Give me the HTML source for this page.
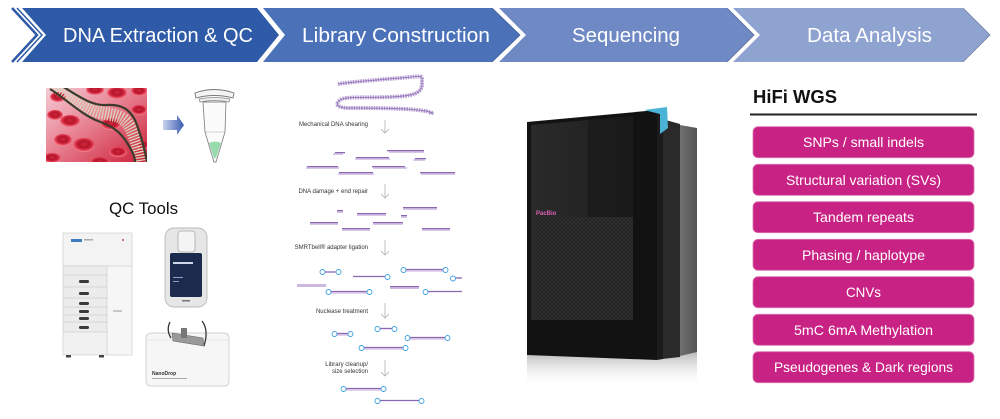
<!DOCTYPE html>
<html><head><meta charset="utf-8">
<style>
html,body{margin:0;padding:0;background:#fff;}
body{width:1000px;height:419px;overflow:hidden;}
svg{display:block;font-family:"Liberation Sans",Arial,sans-serif;}
</style></head>
<body>
<svg width="1000" height="419" viewBox="0 0 1000 419" xmlns="http://www.w3.org/2000/svg">
<defs>
  <linearGradient id="arr" x1="0" x2="1" y1="0" y2="0">
    <stop offset="0" stop-color="#c9d3ee"/><stop offset="1" stop-color="#3a5bb0"/>
  </linearGradient>
  <linearGradient id="blood" x1="0" y1="0" x2="1" y2="1">
    <stop offset="0" stop-color="#f4cbd4"/><stop offset="0.4" stop-color="#ea8a9a"/><stop offset="1" stop-color="#cc2038"/>
  </linearGradient>
  <radialGradient id="cell" cx="0.5" cy="0.45" r="0.5">
    <stop offset="0" stop-color="#d0283c"/><stop offset="0.5" stop-color="#b5142b"/><stop offset="0.85" stop-color="#e23c52"/><stop offset="1" stop-color="#f07a88"/>
  </radialGradient>
  <clipPath id="photo"><rect x="46" y="88" width="101" height="74"/></clipPath>
  <linearGradient id="refl" x1="0" y1="0" x2="0" y2="1">
    <stop offset="0" stop-color="#9a9a9a" stop-opacity="0.7"/><stop offset="1" stop-color="#fff" stop-opacity="0"/>
  </linearGradient>
  <linearGradient id="scr" x1="0" y1="0" x2="1" y2="0">
    <stop offset="0" stop-color="#2a2a2a"/><stop offset="0.55" stop-color="#242424"/><stop offset="0.56" stop-color="#1c1c1c"/><stop offset="1" stop-color="#1a1a1a"/>
  </linearGradient>
  <pattern id="mesh" width="4" height="4" patternUnits="userSpaceOnUse">
    <rect width="4" height="4" fill="#252525"/>
    <path d="M0 0L4 4M4 0L0 4" stroke="#313131" stroke-width="0.6"/>
  </pattern>
  <linearGradient id="side3" x1="0" x2="1"><stop offset="0" stop-color="#707070"/><stop offset="1" stop-color="#555"/></linearGradient>
</defs>

<!-- ===== Chevron header ===== -->
<polygon points="22,8 257,8 279,35 257,62 22,62 46,35" fill="#2e5aa8"/>
<polyline points="12,8 37,35 12,62" fill="none" stroke="#2e5aa8" stroke-width="2.5"/>
<polyline points="17,8 42,35 17,62" fill="none" stroke="#2e5aa8" stroke-width="1.5"/>
<polygon points="263,8 492,8 520,35 492,62 263,62 285,35" fill="#4b72b9"/>
<polygon points="499,8 727,8 754,35 727,62 499,62 526,35" fill="#6f89c4"/>
<polygon points="733,8 963,8 990,35 963,62 733,62 760,35" fill="#8fa3d1"/>
<polyline points="963,8 990,35 963,62" fill="none" stroke="#6f7fa6" stroke-width="0.8"/>
<polyline points="727,8 754,35 727,62" fill="none" stroke="#56689a" stroke-width="0.8"/>
<polyline points="492,8 520,35 492,62" fill="none" stroke="#3d5c99" stroke-width="0.8"/>
<g fill="#fff" font-size="20">
  <text x="63" y="42" textLength="190" lengthAdjust="spacingAndGlyphs">DNA Extraction &amp; QC</text>
  <text x="302" y="42" textLength="188" lengthAdjust="spacingAndGlyphs">Library Construction</text>
  <text x="572" y="42" textLength="108" lengthAdjust="spacingAndGlyphs">Sequencing</text>
  <text x="807" y="42" textLength="125" lengthAdjust="spacingAndGlyphs">Data Analysis</text>
</g>

<!-- ===== DNA / blood photo ===== -->
<g clip-path="url(#photo)">
  <rect x="46" y="88" width="101" height="74" fill="url(#blood)"/>
  <ellipse cx="95" cy="90" rx="9" ry="5" fill="url(#cell)"/>
  <ellipse cx="117" cy="93" rx="10" ry="6" fill="url(#cell)"/>
  <ellipse cx="139" cy="91" rx="8" ry="5" fill="url(#cell)"/>
  <ellipse cx="58" cy="97" rx="8" ry="5" fill="url(#cell)"/>
  <ellipse cx="139" cy="110" rx="8" ry="5" fill="url(#cell)"/>
  <ellipse cx="55" cy="115" rx="8" ry="5" fill="url(#cell)"/>
  <ellipse cx="70" cy="121" rx="10" ry="6" fill="url(#cell)"/>
  <ellipse cx="111" cy="124" rx="10" ry="6" fill="url(#cell)"/>
  <ellipse cx="63" cy="140" rx="9" ry="6" fill="url(#cell)"/>
  <ellipse cx="84" cy="145" rx="11" ry="7" fill="url(#cell)"/>
  <ellipse cx="118" cy="152" rx="9" ry="5" fill="url(#cell)"/>
  <ellipse cx="52" cy="158" rx="9" ry="5" fill="url(#cell)"/>
  <ellipse cx="100" cy="162" rx="10" ry="5" fill="url(#cell)"/>
  <ellipse cx="143" cy="145" rx="6" ry="5" fill="url(#cell)"/>
  <!-- helix -->
  <path d="M56 87 C72 97 88 110 103 113 S126 116 133 133 S140 156 142 166" fill="none" stroke="#d9d6bd" stroke-width="13" stroke-dasharray="1.3 1.5"/>
  <path d="M50 89 C66 99 82 115 98 121 S121 132 129 146 S134 160 136 166" fill="none" stroke="#3b3a2c" stroke-width="2.2"/>
  <path d="M62 86 C78 96 92 106 106 105 S131 108 137 125 S145 152 148 166" fill="none" stroke="#3b3a2c" stroke-width="2.2"/>
</g>
<!-- arrow -->
<polygon points="163,120 177,120 177,115 184,125 177,135 177,130 163,130" fill="url(#arr)"/>
<!-- tube -->
<path d="M195 93 Q214 86 234 93 L233 98 Q214 93 196 98 Z" fill="#f4f4f4" stroke="#777" stroke-width="0.9"/>
<path d="M199 99 Q214 96 230 99 L229 102 Q214 99 200 102 Z" fill="#eee" stroke="#888" stroke-width="0.7"/>
<path d="M203 102 L226 102 L225 132 L216 162 L214 162 L205 132 Z" fill="#fbfbfb" stroke="#888" stroke-width="0.9"/>
<path d="M205 132 L225 132" stroke="#aaa" stroke-width="0.6"/>
<path d="M209 143 Q215 140 221 143 L216 158 L214 158 Z" fill="#7fd39a" opacity="0.8"/>

<!-- ===== QC Tools ===== -->
<text x="109" y="214" font-size="16.5" fill="#111" textLength="69" lengthAdjust="spacingAndGlyphs">QC Tools</text>
<!-- left instrument -->
<rect x="63" y="233" width="69" height="34" fill="#f3f3f3" stroke="#d4d4d4" stroke-width="0.8"/>
<rect x="71" y="239" width="11" height="3" fill="#3e7cc0"/>
<rect x="84" y="239" width="9" height="1.5" fill="#aaa"/>
<circle cx="123" cy="240" r="1" fill="#c44"/>
<rect x="63" y="266" width="44" height="66" fill="#ececec" stroke="#cfcfcf" stroke-width="0.8"/>
<rect x="107" y="266" width="25" height="89" fill="#f6f6f6" stroke="#d6d6d6" stroke-width="0.8"/>
<rect x="63" y="332" width="44" height="23" fill="#f1f1f1" stroke="#d6d6d6" stroke-width="0.8"/>
<g stroke="#cfcfcf" stroke-width="0.8">
  <line x1="63" y1="275" x2="107" y2="275"/><line x1="63" y1="287" x2="107" y2="287"/>
  <line x1="63" y1="298" x2="107" y2="298"/><line x1="63" y1="307" x2="107" y2="307"/>
  <line x1="63" y1="315" x2="107" y2="315"/><line x1="63" y1="322" x2="107" y2="322"/>
</g>
<g fill="#3a3a3a">
  <rect x="79" y="280" width="10" height="3" rx="1.2"/><rect x="79" y="292" width="10" height="3" rx="1.2"/>
  <rect x="79" y="302" width="10" height="3" rx="1.2"/><rect x="79" y="310" width="10" height="3" rx="1.2"/>
  <rect x="79" y="317" width="10" height="3" rx="1.2"/><rect x="79" y="326" width="10" height="3" rx="1.2"/>
</g>
<rect x="113" y="310" width="9" height="2" fill="#c8c8c8"/>
<rect x="66" y="355" width="5" height="2.5" fill="#444"/><rect x="99" y="355" width="5" height="2.5" fill="#444"/>
<!-- Qubit -->
<rect x="165" y="228" width="42" height="79" rx="9" fill="#e6e6e6" stroke="#b9b9b9" stroke-width="0.9"/>
<rect x="178" y="231" width="17" height="21" rx="3" fill="#f4f4f4" stroke="#a8a8a8" stroke-width="0.8"/>
<rect x="170" y="253" width="32" height="44" rx="2" fill="#1c2a4d"/>
<rect x="173" y="262" width="20" height="2" fill="#cfd6ea"/>
<rect x="173" y="277" width="10" height="1" fill="#8fa0c8"/><rect x="173" y="281" width="6" height="1" fill="#8fa0c8"/>
<rect x="182" y="300" width="8" height="1.5" fill="#777"/>
<!-- NanoDrop -->
<path d="M146 337 Q147 333 152 333 L223 333 Q229 333 229 338 L229 381 Q229 386 224 386 L151 386 Q146 386 146 381 Z" fill="#f6f6f6" stroke="#d0d0d0" stroke-width="0.9"/>
<path d="M146 340 L229 340" stroke="#e4e4e4" stroke-width="1"/>
<path d="M170 322 Q166 330 171 338" fill="none" stroke="#333" stroke-width="1.3"/>
<path d="M202 321 Q209 330 204 346" fill="none" stroke="#333" stroke-width="1.3"/>
<polygon points="172,333 203,338 204,346 173,341" fill="#9a9a9a" stroke="#666" stroke-width="0.6"/>
<rect x="181" y="328" width="6" height="10" fill="#777"/>
<text x="152" y="375" font-size="5" font-weight="bold" fill="#333">NanoDrop</text>
<rect x="152" y="378" width="35" height="1" fill="#aaa"/>

<!-- ===== Library construction ===== -->
<path d="M338 84 C350 82 375 80 400 78 S422 74 422 84 S412 96 390 97 S345 96 340 100 S336 108 350 108 S400 108 418 110 S432 114 430 113" fill="none" stroke="#b49bd0" stroke-width="4" stroke-dasharray="1.5 1"/>
<path d="M338 84 C350 82 375 80 400 78 S422 74 422 84 S412 96 390 97 S345 96 340 100 S336 108 350 108 S400 108 418 110 S432 114 430 113" fill="none" stroke="#8a6bb3" stroke-width="1" opacity="0.8"/>
<g font-size="6" fill="#333" text-anchor="end">
  <text x="368" y="126">Mechanical DNA shearing</text>
  <text x="368" y="193">DNA damage + end repair</text>
  <text x="368" y="249">SMRTbell® adapter ligation</text>
  <text x="368" y="313">Nuclease treatment</text>
  <text x="368" y="366">Library cleanup/</text>
  <text x="368" y="373">size selection</text>
</g>
<g stroke="#b0b0b0" stroke-width="0.8" fill="none">
  <line x1="385" y1="120" x2="385" y2="133"/><polyline points="381,129 385,133 389,129"/>
  <line x1="385" y1="184" x2="385" y2="198"/><polyline points="381,194 385,198 389,194"/>
  <line x1="385" y1="240" x2="385" y2="255"/><polyline points="381,251 385,255 389,251"/>
  <line x1="385" y1="303" x2="385" y2="318"/><polyline points="381,314 385,318 389,314"/>
  <line x1="385" y1="360" x2="385" y2="376"/><polyline points="381,372 385,376 389,372"/>
</g>
<!-- fragments: dark top, light bottom -->
<g>
  <g fill="#8b67b1">
    <rect x="335" y="152" width="10" height="1.3"/><rect x="387" y="150" width="37" height="1.3"/>
    <rect x="356" y="157" width="33" height="1.3"/><rect x="415" y="158" width="11" height="1.3"/>
    <rect x="307" y="166" width="31" height="1.3"/><rect x="372" y="166" width="33" height="1.3"/>
    <rect x="339" y="172" width="34" height="1.3"/><rect x="420" y="172" width="35" height="1.3"/>
    <rect x="337" y="210" width="6" height="1.3"/><rect x="403" y="207" width="34" height="1.3"/>
    <rect x="357" y="213" width="29" height="1.3"/><rect x="401" y="215" width="6" height="1.3"/>
    <rect x="310" y="222" width="28" height="1.3"/><rect x="373" y="222" width="30" height="1.3"/>
    <rect x="342" y="228" width="28" height="1.3"/><rect x="422" y="228" width="28" height="1.3"/>
  </g>
  <g fill="#cdb9e0">
    <rect x="333" y="153.3" width="10" height="1.5"/><rect x="389" y="151.3" width="35" height="1.5"/>
    <rect x="355" y="158.3" width="35" height="1.5"/><rect x="413" y="159.3" width="12" height="1.5"/>
    <rect x="306" y="167.3" width="33" height="1.5"/><rect x="373" y="167.3" width="34" height="1.5"/>
    <rect x="338" y="173.3" width="36" height="1.5"/><rect x="421" y="173.3" width="34" height="1.5"/>
    <rect x="337" y="211.3" width="6" height="1.5"/><rect x="403" y="208.3" width="34" height="1.5"/>
    <rect x="357" y="214.3" width="29" height="1.5"/><rect x="401" y="216.3" width="6" height="1.5"/>
    <rect x="310" y="223.3" width="28" height="1.5"/><rect x="373" y="223.3" width="30" height="1.5"/>
    <rect x="342" y="229.3" width="28" height="1.5"/><rect x="422" y="229.3" width="28" height="1.5"/>
  </g>
</g>
<!-- adapters -->
<g>
  <g stroke="#8b67b1" stroke-width="1.3">
    <line x1="325" y1="272" x2="336" y2="272"/>
    <line x1="353" y1="276.5" x2="385" y2="276.5"/>
    <line x1="406" y1="269.5" x2="443" y2="269.5"/>
    <line x1="455" y1="278" x2="462" y2="278"/>
    <line x1="331" y1="291.5" x2="367" y2="291.5"/>
    <line x1="428" y1="291.5" x2="462" y2="291.5"/>
    <line x1="337" y1="333.5" x2="348" y2="333.5"/>
    <line x1="380" y1="328.5" x2="392" y2="328.5"/>
    <line x1="410" y1="337.5" x2="445" y2="337.5"/>
    <line x1="364" y1="347.5" x2="403" y2="347.5"/>
    <line x1="346" y1="388.5" x2="381" y2="388.5"/>
    <line x1="380" y1="400.5" x2="419" y2="400.5"/>
  </g>
  <g stroke="#cdb9e0" stroke-width="1.3">
    <line x1="406" y1="271" x2="443" y2="271"/>
    <line x1="331" y1="293" x2="367" y2="293"/>
    <line x1="410" y1="339" x2="445" y2="339"/>
    <line x1="364" y1="349" x2="403" y2="349"/>
    <line x1="346" y1="390" x2="381" y2="390"/>
    <line x1="337" y1="335" x2="348" y2="335"/>
  </g>
  <rect x="297" y="284" width="29" height="3" fill="#cdb9e0"/>
  <rect x="390" y="286" width="29" height="1.3" fill="#8b67b1"/>
  <rect x="390" y="287.3" width="29" height="1.7" fill="#cdb9e0"/>
  <g fill="#fff" stroke="#3a9fdc" stroke-width="0.9">
    <circle cx="322.5" cy="272" r="2.5"/><circle cx="338.5" cy="272" r="2.5"/>
    <circle cx="387.5" cy="277" r="2.5"/>
    <circle cx="403.5" cy="270" r="2.5"/><circle cx="445.5" cy="270" r="2.5"/>
    <circle cx="453" cy="278.5" r="2.5"/>
    <circle cx="328.5" cy="292" r="2.5"/><circle cx="369.5" cy="292" r="2.5"/>
    <circle cx="425.5" cy="292" r="2.5"/>
    <circle cx="334.5" cy="334" r="2.5"/><circle cx="350.5" cy="334" r="2.5"/>
    <circle cx="377.5" cy="329" r="2.5"/><circle cx="394.5" cy="329" r="2.5"/>
    <circle cx="407.5" cy="338" r="2.5"/><circle cx="447.5" cy="338" r="2.5"/>
    <circle cx="361.5" cy="348" r="2.5"/><circle cx="405.5" cy="348" r="2.5"/>
    <circle cx="343.5" cy="389" r="2.5"/><circle cx="383.5" cy="389" r="2.5"/>
    <circle cx="377.5" cy="401" r="2.5"/><circle cx="421.5" cy="401" r="2.5"/>
  </g>
</g>

<!-- ===== Sequencer ===== -->
<polygon points="527,355 697,352 697,385 527,388" fill="url(#refl)"/>
<polygon points="680,125 697,128 697,352 680,356" fill="url(#side3)"/>
<polygon points="662,119 680,124 680,357 662,359" fill="#2a2a2a"/>
<polygon points="657,110 663,113 663,359 657,360" fill="#1b1b1b"/>
<polygon points="527,122 657,110 657,360 527,355" fill="#121212"/>
<polygon points="531,125 633,116 633,217 531,217" fill="url(#scr)"/>
<rect x="531" y="217" width="102" height="103" fill="url(#mesh)"/>
<polygon points="644,110 667,107 668,128 660,134 660,114" fill="#4bb3d6"/>
<text x="536" y="215" font-size="6" font-weight="bold" fill="#e05fb5">PacBio</text>

<!-- ===== Data analysis ===== -->
<text x="753" y="103" font-size="18" font-weight="bold" fill="#111" textLength="84" lengthAdjust="spacingAndGlyphs">HiFi WGS</text>
<line x1="750" y1="114.5" x2="977" y2="114.5" stroke="#222" stroke-width="2"/>
<g fill="#c92285" stroke="#dc74b0" stroke-width="0.8">
  <rect x="753" y="126.7" width="221" height="31" rx="5"/>
  <rect x="753" y="164.3" width="221" height="31" rx="5"/>
  <rect x="753" y="201.7" width="221" height="31" rx="5"/>
  <rect x="753" y="239.3" width="221" height="31" rx="5"/>
  <rect x="753" y="276.7" width="221" height="31" rx="5"/>
  <rect x="753" y="314.3" width="221" height="31" rx="5"/>
  <rect x="753" y="351.7" width="221" height="31" rx="5"/>
</g>
<g fill="#fff" font-size="14">
  <text x="803" y="147" textLength="121" lengthAdjust="spacingAndGlyphs">SNPs / small indels</text>
  <text x="786" y="185" textLength="155" lengthAdjust="spacingAndGlyphs">Structural variation (SVs)</text>
  <text x="813" y="222" textLength="101" lengthAdjust="spacingAndGlyphs">Tandem repeats</text>
  <text x="802" y="260" textLength="123" lengthAdjust="spacingAndGlyphs">Phasing / haplotype</text>
  <text x="846" y="297" textLength="35" lengthAdjust="spacingAndGlyphs">CNVs</text>
  <text x="794" y="335" textLength="139" lengthAdjust="spacingAndGlyphs">5mC 6mA Methylation</text>
  <text x="774" y="372" textLength="179" lengthAdjust="spacingAndGlyphs">Pseudogenes &amp; Dark regions</text>
</g>
</svg>
</body></html>
